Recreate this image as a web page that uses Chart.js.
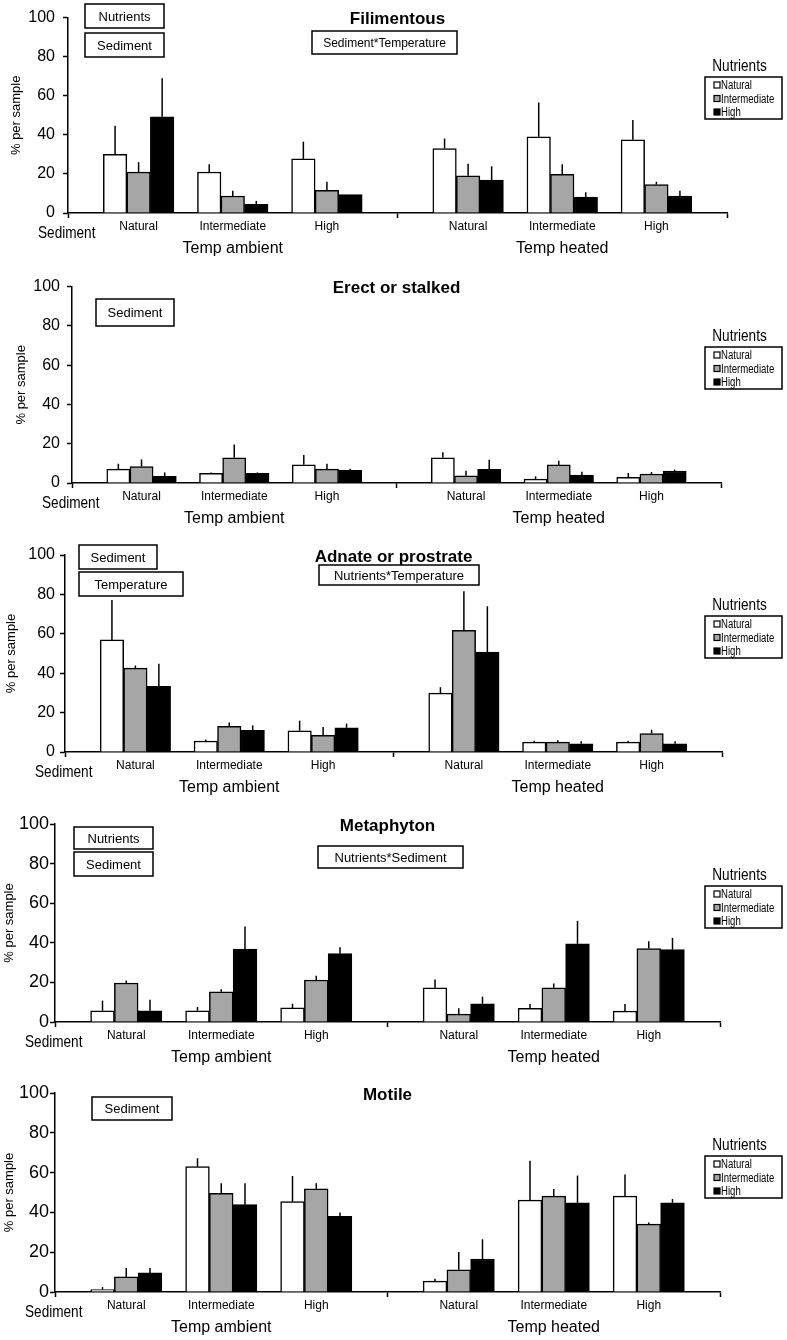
<!DOCTYPE html>
<html>
<head>
<meta charset="utf-8">
<script src="https://cdn.jsdelivr.net/npm/chart.js@4/dist/chart.umd.min.js"></script>
<style>
  html, body { margin: 0; padding: 0; background: #fff; }
  #wrap { position: relative; width: 787px; height: 1340px; overflow: hidden; }
  #wrap canvas { position: absolute; left: 0; }
</style>
</head>
<body>
<div id="wrap"></div>
<script>
// categories / series
const sedimentLevels = ['Natural', 'Intermediate', 'High'];
const tempGroups = ['Temp ambient', 'Temp heated'];
const nutrientLevels = ['Natural', 'Intermediate', 'High'];
const yTicks = [0, 20, 40, 60, 80, 100];
const panelTitles = ['Filimentous', 'Erect or stalked', 'Adnate or prostrate', 'Metaphyton', 'Motile'];
const panelEffects = [
  ['Nutrients', 'Sediment', 'Sediment*Temperature'],
  ['Sediment'],
  ['Sediment', 'Temperature', 'Nutrients*Temperature'],
  ['Nutrients', 'Sediment', 'Nutrients*Sediment'],
  ['Sediment']
];

// one row per nutrient level; columns = ambient Natural/Intermediate/High, heated Natural/Intermediate/High
const filimentousMean = [
  [30, 21, 27.7, 33, 39, 37.5],
  [21, 8.7, 11.6, 19, 19.8, 14.6],
  [49.2, 4.5, 9.4, 16.8, 8.1, 8.7]
];
const filimentousErr = [
  [14.6, 3.9, 8.8, 5.1, 17.6, 10.1],
  [5, 2.7, 4.4, 6.2, 5.1, 1.4],
  [19.7, 1.7, 0, 7.1, 2.5, 2.7]
];
const erectMean = [
  [7.1, 4.9, 9.3, 12.8, 2.0, 2.9],
  [8.4, 12.8, 7.1, 3.7, 9.2, 4.6],
  [3.4, 4.9, 6.4, 6.9, 4.0, 6.1]
];
const erectErr = [
  [2.7, 0.5, 5, 2.9, 1.4, 2.2],
  [3.6, 6.8, 2.7, 2.5, 2.1, 1],
  [2, 0.5, 0.9, 4.9, 1.7, 0.7]
];
const adnateMean = [
  [56.9, 5.6, 10.8, 29.9, 5.0, 5.0],
  [42.6, 13, 8.4, 61.7, 5.0, 9.4],
  [33.3, 11, 12.3, 50.7, 4.2, 4.2]
];
const adnateErr = [
  [20.3, 0.7, 5.1, 3, 0.7, 0.7],
  [1.3, 2, 4.3, 19.9, 1, 1.9],
  [11.5, 2.5, 2.1, 23.3, 1.3, 1.3]
];
const metaphytonMean = [
  [5.7, 5.7, 7.1, 17.3, 6.9, 5.5],
  [19.7, 15.3, 21.2, 4.0, 17.3, 37.1],
  [5.7, 36.8, 34.5, 9.2, 39.5, 36.6]
];
const metaphytonErr = [
  [5.1, 1.9, 2.1, 4.2, 2.2, 3.6],
  [1.3, 1.3, 2.2, 2.9, 2.2, 3.7],
  [5.6, 11.4, 3.3, 3.6, 11.6, 5.9]
];
const motileMean = [
  [1.2, 63, 45.4, 5.5, 46.2, 48.2],
  [7.6, 49.6, 51.9, 11.2, 48.2, 34.1],
  [9.6, 43.9, 38, 16.6, 44.8, 44.8]
];
const motileErr = [
  [1.3, 4.2, 12.9, 1.2, 19.8, 10.9],
  [4.5, 5, 2.7, 8.9, 3.5, 0.8],
  [2.5, 10.7, 2, 9.9, 13.7, 1.9]
];
const panelMeans = [filimentousMean, erectMean, adnateMean, metaphytonMean, motileMean];
const panelErrs = [filimentousErr, erectErr, adnateErr, metaphytonErr, motileErr];

const SANS = '"Liberation Sans", Arial, sans-serif';
const barColors = ['#ffffff', '#a6a6a6', '#000000'];

// page layout of each panel (pixels)
const CANVAS_H = 262, ZERO_Y = 213;
const layouts = [
  { top: 0,    left: 68, right: 727, plotTop: 15, titlePad: 9,  tickPad: 8, tickFont: 16,
    boxes: [[85, 4, 79, 24, 13], [85, 33, 79, 24, 13], [312, 31, 145, 23, 12]] },
  { top: 270,  left: 72, right: 721, plotTop: 15, titlePad: 14, tickPad: 7, tickFont: 16,
    boxes: [[96, 29, 78, 27, 13]] },
  { top: 539,  left: 65, right: 722, plotTop: 16, titlePad: 4,  tickPad: 5, tickFont: 16,
    boxes: [[79, 6, 78, 24, 13], [79, 33, 104, 24, 13], [319, 26, 160, 20, 13]] },
  { top: 809,  left: 55, right: 720, plotTop: 15, titlePad: 2,  tickPad: 1, tickFont: 18,
    boxes: [[74, 18, 79, 22, 13], [74, 43, 79, 24, 13], [318, 37, 145, 22, 13]] },
  { top: 1079, left: 55, right: 720, plotTop: 14, titlePad: 2,  tickPad: 1, tickFont: 18,
    boxes: [[92, 18, 80, 23, 13]] }
];

const GROUP_STEP = 3.5;
const xPos = i => Math.floor(i / 3) * GROUP_STEP + (i % 3);
const dividers = [-0.75, 2.75, 6.25];
const xTickValues = [-0.75, 0, 1, 2, 2.75, 3.5, 4.5, 5.5, 6.25];
const isDivider = v => dividers.some(d => Math.abs(d - v) < 1e-6);

// narrow text like the original (no condensed font installed)
function narrowText(ctx, txt, x, y, align, sx) {
  ctx.save();
  ctx.translate(x, y);
  ctx.scale(sx || 0.8, 1);
  ctx.textAlign = align;
  ctx.fillText(txt, 0, 0);
  ctx.restore();
}

const errorBars = {
  id: 'errorBars',
  afterDatasetsDraw(chart) {
    const { ctx } = chart;
    const y = chart.scales.y;
    ctx.save();
    ctx.strokeStyle = '#000';
    ctx.lineWidth = 1.5;
    chart.data.datasets.forEach((ds, k) => {
      chart.getDatasetMeta(k).data.forEach((bar, i) => {
        const se = ds.errors[i];
        if (!se) return;
        ctx.beginPath();
        ctx.moveTo(bar.x, bar.y);
        ctx.lineTo(bar.x, y.getPixelForValue(ds.data[i].y + se));
        ctx.stroke();
      });
    });
    ctx.restore();
  }
};

// title, effect boxes, group labels and the Nutrients legend
const decorations = {
  id: 'decorations',
  afterDraw(chart, args, opts) {
    const { ctx, chartArea } = chart;
    const x = chart.scales.x;
    ctx.save();
    ctx.fillStyle = '#000';
    ctx.strokeStyle = '#000';
    ctx.textBaseline = 'middle';

    ctx.font = 'bold 17px ' + SANS;
    ctx.textAlign = 'center';
    ctx.fillText(opts.title, (chartArea.left + chartArea.right) / 2, chartArea.top + 2);

    ctx.lineWidth = 1.5;
    opts.effects.forEach((txt, j) => {
      const [bx, by, bw, bh, fs] = opts.boxes[j];
      ctx.fillStyle = '#fff';
      ctx.fillRect(bx, by, bw, bh);
      ctx.strokeRect(bx, by, bw, bh);
      ctx.fillStyle = '#000';
      ctx.font = fs + 'px ' + SANS;
      ctx.fillText(txt, bx + bw / 2, by + bh / 2 + 1);
    });

    ctx.font = '16px ' + SANS;
    tempGroups.forEach((g, t) => {
      ctx.fillText(g, x.getPixelForValue(t * GROUP_STEP + 1), chartArea.bottom + 36);
    });

    ctx.font = '17px ' + SANS;
    narrowText(ctx, 'Sediment', chartArea.left - 30, chartArea.bottom + 20, 'left', 0.8);

    // legend
    const lx = 705, ly = chartArea.bottom - 136, lw = 77, lh = 42;
    ctx.font = '17px ' + SANS;
    narrowText(ctx, 'Nutrients', lx + lw / 2 - 4, ly - 11, 'center', 0.8);
    ctx.strokeRect(lx, ly, lw, lh);
    ctx.font = '12px ' + SANS;
    ctx.lineWidth = 1.2;
    chart.data.datasets.forEach((ds, k) => {
      const cy = ly + 8 + k * 13.5;
      ctx.fillStyle = ds.backgroundColor;
      ctx.fillRect(lx + 9, cy - 3, 6, 6);
      ctx.strokeRect(lx + 9, cy - 3, 6, 6);
      ctx.fillStyle = '#000';
      narrowText(ctx, ds.label, lx + 16, cy + 1, 'left', 0.8);
    });
    ctx.restore();
  }
};

const wrap = document.getElementById('wrap');
layouts.forEach((L, p) => {
  const canvas = document.createElement('canvas');
  canvas.width = 787;
  canvas.height = CANVAS_H;
  canvas.style.top = L.top + 'px';
  wrap.appendChild(canvas);

  new Chart(canvas.getContext('2d'), {
    type: 'bar',
    data: {
      datasets: nutrientLevels.map((n, k) => ({
        label: n,
        data: panelMeans[p][k].map((v, i) => ({ x: xPos(i), y: v })),
        errors: panelErrs[p][k],
        backgroundColor: barColors[k],
        borderColor: '#000',
        borderWidth: 1.5,
        categoryPercentage: 1,
        barPercentage: 1
      }))
    },
    options: {
      responsive: false,
      animation: false,
      events: [],
      devicePixelRatio: 1,
      layout: { padding: { left: 0, right: 787 - L.right, top: L.plotTop, bottom: CANVAS_H - ZERO_Y - 40 } },
      plugins: {
        legend: { display: false },
        tooltip: { enabled: false },
        decorations: { title: panelTitles[p], effects: panelEffects[p], boxes: L.boxes }
      },
      scales: {
        x: {
          type: 'linear',
          min: -0.75,
          max: 6.25,
          offset: false,
          afterBuildTicks: s => { s.ticks = xTickValues.map(v => ({ value: v })); },
          afterFit: s => { s.height = 40; },
          ticks: {
            autoSkip: false, maxRotation: 0, padding: 1, color: '#000',
            font: { family: SANS, size: 12 },
            callback: v => isDivider(v) ? '' : sedimentLevels[Math.round(v - (v > 3 ? GROUP_STEP : 0))]
          },
          grid: {
            offset: false, drawOnChartArea: false, tickLength: 5, tickWidth: 1.5,
            tickColor: c => (c.tick && isDivider(c.tick.value)) ? '#000' : 'rgba(0,0,0,0)'
          },
          border: { color: '#000', width: 1.5 }
        },
        y: {
          min: 0,
          max: 100,
          afterBuildTicks: s => { s.ticks = yTicks.map(v => ({ value: v })); },
          afterFit: s => { s.width = L.left; },
          ticks: { color: '#000', padding: L.tickPad, font: { family: SANS, size: L.tickFont } },
          grid: { drawOnChartArea: false, tickLength: 5, tickWidth: 1.5, tickColor: '#000' },
          border: { color: '#000', width: 1.5 },
          title: {
            display: true, text: '% per sample', color: '#000',
            font: { family: SANS, size: 13 }, padding: { top: L.titlePad, bottom: 0 }
          }
        }
      }
    },
    plugins: [errorBars, decorations]
  });
});
</script>
</body>
</html>
